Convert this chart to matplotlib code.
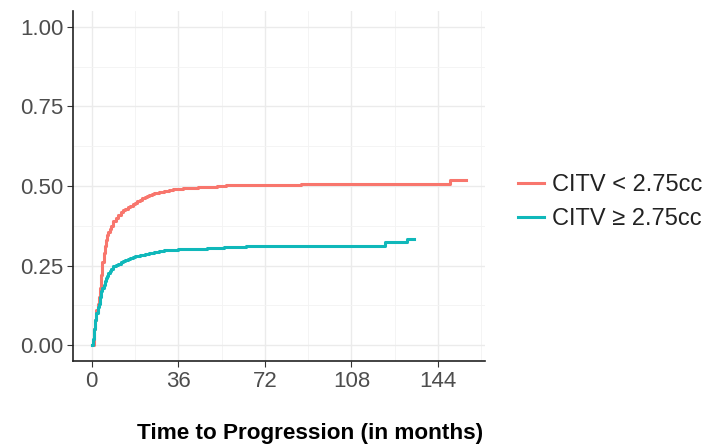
"""
Cumulative incidence of progression by CITV group.
"""

import matplotlib.pyplot as plt
from matplotlib.ticker import MultipleLocator

plt.rcParams["font.family"] = ["Liberation Sans", "DejaVu Sans"]

# Red group: CITV < 2.75cc
low_time = [0, 1, 1.5, 2, 2.5, 3, 3.5, 4, 4.5, 5, 5.5, 6, 6.5, 7, 7.5, 8, 9, 10,
            11, 12, 13, 14, 15, 16, 17, 18, 19, 20, 21, 22, 23, 24, 25, 26, 28,
            30, 32, 34, 36, 38, 40, 44, 48, 52, 56, 87, 149, 155.5]
low_inc = [0, 0.05, 0.08, 0.11, 0.13, 0.15, 0.18, 0.22, 0.26, 0.29, 0.31, 0.33,
           0.345, 0.355, 0.365, 0.375, 0.39, 0.40, 0.41, 0.417, 0.423, 0.428,
           0.433, 0.438, 0.442, 0.447, 0.452, 0.457, 0.461, 0.465, 0.468, 0.471,
           0.474, 0.477, 0.481, 0.485, 0.488, 0.49, 0.492, 0.493, 0.494, 0.496,
           0.498, 0.50, 0.502, 0.505, 0.52, 0.52]

# Teal group: CITV >= 2.75cc
high_time = [0, 0.5, 1, 1.5, 2, 2.5, 3, 3.5, 4, 4.5, 5, 5.5, 6, 6.5, 7, 7.5, 8,
             9, 10, 11, 12, 13, 14, 15, 16, 17, 18, 20, 22, 24, 26, 28, 30, 36,
             42, 48, 55, 64, 122, 131, 134]
high_inc = [0, 0.02, 0.05, 0.08, 0.10, 0.12, 0.13, 0.15, 0.17, 0.18, 0.19, 0.20,
            0.21, 0.218, 0.225, 0.232, 0.24, 0.247, 0.252, 0.256, 0.26, 0.264,
            0.268, 0.271, 0.274, 0.277, 0.28, 0.283, 0.286, 0.289, 0.292,
            0.295, 0.299, 0.301, 0.303, 0.305, 0.307, 0.31, 0.325, 0.332, 0.332]

labels = ["CITV < 2.75cc", "CITV \u2265 2.75cc"]
colors = ["#F8766D", "#10B8BA"]

fig = plt.figure(figsize=(7.11, 4.47), dpi=100)
ax = fig.add_axes([73 / 711, 1 - 361 / 447, 412 / 711, 350 / 447])

ax.plot(low_time, low_inc, drawstyle="steps-post", color=colors[0], lw=2.2, label=labels[0])
ax.plot(high_time, high_inc, drawstyle="steps-post", color=colors[1], lw=2.2, label=labels[1])

ax.set_xlim(-7.75, 163.5)
ax.set_ylim(-0.05, 1.05)
ax.xaxis.set_major_locator(MultipleLocator(36))
ax.xaxis.set_minor_locator(MultipleLocator(18))
ax.yaxis.set_major_locator(MultipleLocator(0.25))
ax.yaxis.set_minor_locator(MultipleLocator(0.125))
ax.yaxis.set_major_formatter(lambda v, _: f"{v:.2f}")

ax.grid(which="major", color="#EBEBEB", lw=1)
ax.grid(which="minor", color="#F3F3F3", lw=0.6)
ax.set_axisbelow(True)
for side in ["top", "right"]:
    ax.spines[side].set_visible(False)
for side in ["left", "bottom"]:
    ax.spines[side].set_color("#222222")
    ax.spines[side].set_linewidth(1.2)

ax.tick_params(which="major", length=4, color="#333333", labelsize=16,
               labelcolor="#4D4D4D", pad=3)
ax.tick_params(which="minor", length=0)

fig.text(310 / 711, 1 - 433 / 447, "Time to Progression (in months)",
         ha="center", va="center", fontsize=16.2, fontweight="bold")

ax.legend(loc="center left", bbox_to_anchor=(518 / 711, 1 - 202 / 447),
          bbox_transform=fig.transFigure, frameon=False, fontsize=17,
          borderpad=0, borderaxespad=0, handlelength=1.1, handletextpad=0.33,
          labelspacing=0.52, labelcolor="#222222")

fig.savefig("out.png", dpi=100)
